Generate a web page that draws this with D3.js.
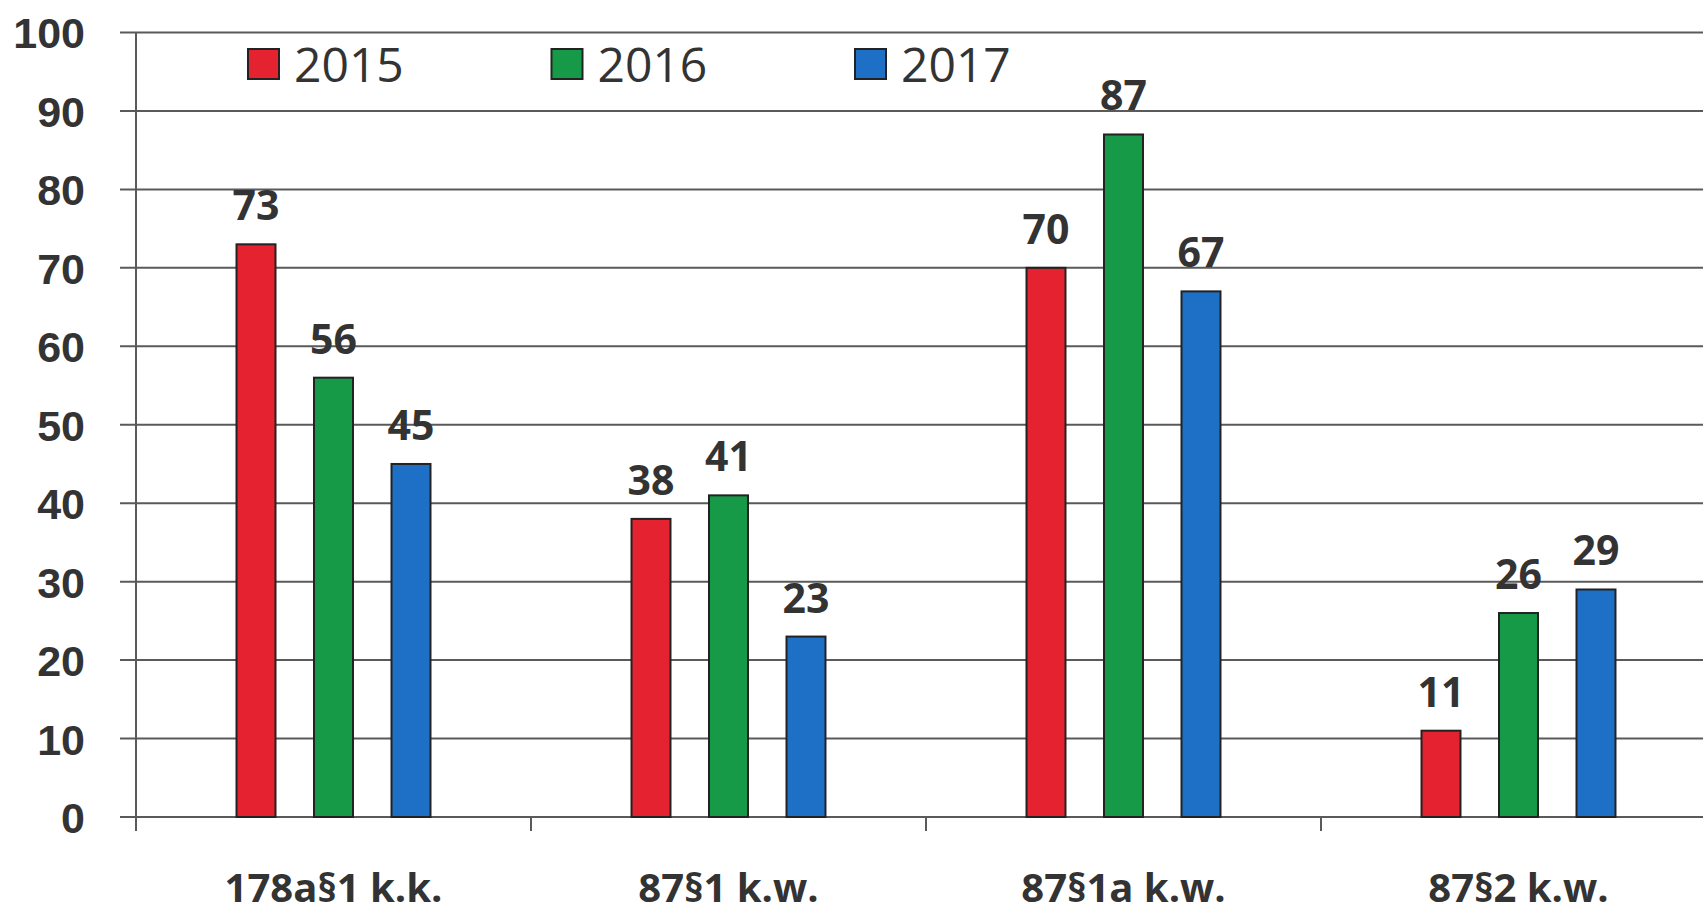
<!DOCTYPE html>
<html lang="pl">
    <head>
        <meta charset="UTF-8">
        <title>Wykroczenia 2015-2017</title>
        <script src="https://d3js.org/d3.v7.min.js"></script>
        <style>
            html, body { margin: 0; padding: 0; background: #fff; overflow: hidden; }
            svg { display: block; font-family: "Open Sans", "Noto Sans", sans-serif; }
            .grid line { stroke: #5a5a5a; stroke-width: 2; }
            .y.axis text { font-size: 43px; font-weight: 700; fill: #333; }
            .y.axis path, .y.axis line { display: none; }
            .bar { stroke: #222; stroke-width: 2; }
            .value { font-size: 41px; font-weight: 700; fill: #333; text-anchor: middle; }
            .cat { font-size: 40px; font-weight: 700; fill: #333; text-anchor: middle; }
            .legend text { font-size: 48px; fill: #333; }
        </style>
    </head>

    <body>
        <script>
            const categories = ["178a§1 k.k.", "87§1 k.w.", "87§1a k.w.", "87§2 k.w."];
            const years = ["2015", "2016", "2017"];
            const values2015 = [73, 38, 70, 11];
            const values2016 = [56, 41, 87, 26];
            const values2017 = [45, 23, 67, 29];
            const yTicks = [0, 10, 20, 30, 40, 50, 60, 70, 80, 90, 100];
            const colors = ["#e42230", "#169a48", "#1e6fc6"];

            const width = 1703, height = 916;
            const series = [values2015, values2016, values2017];

            const svg = d3.select("body").append("svg")
                .attr("width", width)
                .attr("height", height);

            // plot area runs past the right edge, like in the scan
            const x0 = d3.scaleBand()
                .domain(categories)
                .range([136, 1716]);

            const x1 = d3.scaleBand()
                .domain(years)
                .range([0, x0.bandwidth()])
                .paddingInner(0.497)
                .paddingOuter(1.297);

            const y = d3.scaleLinear()
                .domain([0, 100])
                .range([817, 32.5]);

            // horizontal grid lines
            svg.append("g").classed("grid", true)
                .selectAll("line")
                .data(yTicks)
                .enter().append("line")
                    .attr("x1", 120)
                    .attr("x2", width)
                    .attr("y1", d => y(d))
                    .attr("y2", d => y(d));

            // y axis line and category ticks
            const ticks = categories.map(c => x0(c)).concat([x0.range()[1]]);
            svg.append("g").classed("grid", true)
                .selectAll("line")
                .data(ticks)
                .enter().append("line")
                    .attr("x1", d => d)
                    .attr("x2", d => d)
                    .attr("y1", (d, i) => i === 0 ? y(100) : y(0))
                    .attr("y2", y(0) + 14);

            svg.append("g")
                .classed("y axis", true)
                .attr("transform", "translate(85,0)")
                .call(d3.axisLeft(y).tickValues(yTicks).tickSize(0).tickPadding(0))
                .selectAll("text")
                    .attr("dy", "0.36em");

            // bars
            const groups = svg.selectAll(".group")
                .data(categories)
                .enter().append("g")
                    .classed("group", true)
                    .attr("transform", d => `translate(${x0(d)},0)`);

            groups.selectAll(".bar")
                .data((c, ci) => years.map((yr, si) => ({year: yr, si: si, value: series[si][ci]})))
                .enter().append("rect")
                    .classed("bar", true)
                    .attr("x", d => x1(d.year))
                    .attr("width", x1.bandwidth())
                    .attr("y", d => y(d.value))
                    .attr("height", d => y(0) - y(d.value))
                    .attr("fill", d => colors[d.si]);

            groups.selectAll(".value")
                .data((c, ci) => years.map((yr, si) => ({year: yr, value: series[si][ci]})))
                .enter().append("text")
                    .classed("value", true)
                    .attr("x", d => x1(d.year) + x1.bandwidth() / 2)
                    .attr("y", d => y(d.value) - 24)
                    .text(d => d.value);

            // category labels
            svg.selectAll(".cat")
                .data(categories)
                .enter().append("text")
                    .classed("cat", true)
                    .attr("x", d => x0(d) + x0.bandwidth() / 2)
                    .attr("y", 902)
                    .text(d => d);

            // legend
            const legend = svg.append("g").classed("legend", true)
                .selectAll("g")
                .data(years)
                .enter().append("g")
                    .attr("transform", (d, i) => `translate(${248 + i * 303.5},49)`);

            legend.append("rect")
                .attr("width", 31)
                .attr("height", 30)
                .attr("fill", (d, i) => colors[i])
                .attr("stroke", "#222")
                .attr("stroke-width", 2);

            legend.append("text")
                .attr("x", 46)
                .attr("y", 33)
                .text(d => d);
        </script>
    </body>
</html>
